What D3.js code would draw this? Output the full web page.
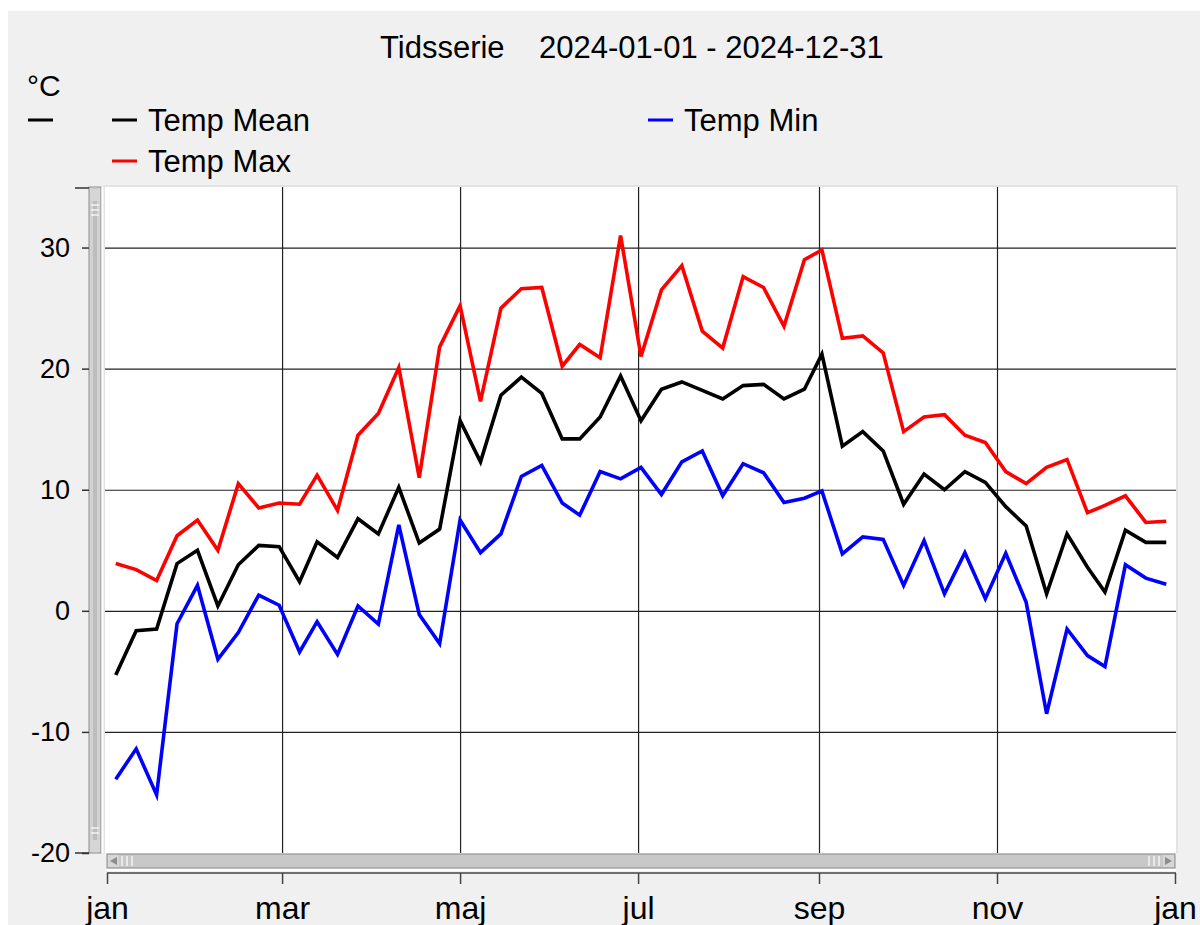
<!DOCTYPE html>
<html>
<head>
<meta charset="utf-8">
<script src="https://cdn.jsdelivr.net/npm/d3@7"></script>
<style>
  body { margin: 0; background: #fff; }
  svg text { font-family: "Liberation Sans", Arial, sans-serif; fill: #000; }
</style>
</head>
<body>
<div id="chart"></div>
<script>
// weekly points, 2024
var dates = ["2024-01-04","2024-01-11","2024-01-18","2024-01-25","2024-02-01","2024-02-08","2024-02-15",
  "2024-02-22","2024-02-29","2024-03-07","2024-03-13","2024-03-20","2024-03-27","2024-04-03","2024-04-10",
  "2024-04-17","2024-04-24","2024-05-01","2024-05-08","2024-05-15","2024-05-22","2024-05-29","2024-06-05",
  "2024-06-11","2024-06-18","2024-06-25","2024-07-02","2024-07-09","2024-07-16","2024-07-23","2024-07-30",
  "2024-08-06","2024-08-13","2024-08-20","2024-08-27","2024-09-02","2024-09-09","2024-09-16","2024-09-23",
  "2024-09-30","2024-10-07","2024-10-14","2024-10-21","2024-10-28","2024-11-04","2024-11-11","2024-11-18",
  "2024-11-25","2024-12-02","2024-12-08","2024-12-15","2024-12-22","2024-12-29"];

var tempMean = [-5.3,-1.65,-1.5,3.9,5.0,0.4,3.8,5.4,5.3,2.4,5.7,4.4,7.6,6.35,10.2,5.6,6.75,15.7,12.3,17.8,
  19.3,17.95,14.2,14.2,16.0,19.4,15.7,18.3,18.9,18.2,17.5,18.6,18.7,17.5,18.3,21.2,13.6,14.8,13.2,8.8,11.3,
  10.0,11.5,10.6,8.6,7.0,1.4,6.35,3.6,1.55,6.65,5.65,5.65];

var tempMax = [3.9,3.4,2.5,6.2,7.5,5.0,10.5,8.5,8.9,8.8,11.2,8.3,14.5,16.3,20.1,11.0,21.8,25.2,17.3,25.0,
  26.6,26.7,20.2,22.0,20.9,31.0,21.0,26.5,28.5,23.1,21.7,27.6,26.7,23.5,29.0,29.8,22.5,22.7,21.3,14.8,16.0,
  16.2,14.5,13.9,11.5,10.5,11.85,12.5,8.1,8.7,9.5,7.3,7.4];

var tempMin = [-13.9,-11.4,-15.2,-1.07,2.1,-4.0,-1.8,1.3,0.46,-3.4,-0.9,-3.6,0.4,-1.1,7.1,-0.3,-2.7,7.5,4.8,
  6.35,11.1,12.0,8.9,7.9,11.5,10.9,11.85,9.6,12.3,13.2,9.5,12.15,11.4,8.95,9.3,9.9,4.7,6.1,5.9,2.1,5.8,1.4,
  4.8,1.0,4.75,0.7,-8.5,-1.5,-3.7,-4.6,3.8,2.7,2.2];

var monthTicks = ["2024-01-01","2024-03-01","2024-05-01","2024-07-01","2024-09-01","2024-11-01","2025-01-01"];
var monthLabels = ["jan","mar","maj","jul","sep","nov","jan"];
var yTicks = [30, 20, 10, 0, -10, -20];

var parse = d3.timeParse("%Y-%m-%d");
var W = 1200, H = 925;
var pL = 105, pR = 1176, pT = 187, pB = 853;

var svg = d3.select("#chart").append("svg")
  .attr("width", W).attr("height", H)
  .attr("viewBox", [0, 0, W, H]);

// grey window background
svg.append("rect").attr("x", 8).attr("y", 11).attr("width", W - 8).attr("height", H - 11).attr("fill", "#f0f0f0");

var x = d3.scaleTime()
  .domain([parse("2024-01-01"), parse("2025-01-01")])
  .range([107, 1175]);
var y = d3.scaleLinear().domain([-20, 35]).range([pB, pT]);

// plot area
svg.append("rect").attr("x", pL - 2).attr("y", pT - 2).attr("width", pR - pL + 4).attr("height", pB - pT + 2)
  .attr("fill", "#e3e3e3");
svg.append("rect").attr("x", pL).attr("y", pT).attr("width", pR - pL).attr("height", pB - pT)
  .attr("fill", "#fff");

// grid
svg.append("g")
  .attr("transform", "translate(" + pL + ",0)")
  .call(d3.axisLeft(y).tickValues(yTicks.filter(d => d > -20)).tickSize(-(pR - pL)).tickFormat(""))
  .call(g => g.select(".domain").remove())
  .call(g => g.selectAll("line").attr("stroke", "#222").attr("stroke-width", 1.2));

svg.append("g")
  .attr("transform", "translate(0," + pB + ")")
  .call(d3.axisBottom(x).tickValues(monthTicks.slice(1, -1).map(parse)).tickSize(-(pB - pT)).tickFormat(""))
  .call(g => g.select(".domain").remove())
  .call(g => g.selectAll("line").attr("stroke", "#222").attr("stroke-width", 1.2));

// series
var series = [
  { name: "Temp Mean", values: tempMean, color: "#000000" },
  { name: "Temp Max", values: tempMax, color: "#ff0000" },
  { name: "Temp Min", values: tempMin, color: "#0000ff" }
];

svg.append("clipPath").attr("id", "clip")
  .append("rect").attr("x", pL).attr("y", pT).attr("width", pR - pL).attr("height", pB - pT);

var line = d3.line()
  .x((d, i) => x(parse(dates[i])))
  .y(d => y(d));

svg.append("g").attr("clip-path", "url(#clip)")
  .selectAll("path")
  .data(series.slice().reverse())
  .join("path")
  .attr("d", d => line(d.values))
  .attr("fill", "none")
  .attr("stroke", d => d.color)
  .attr("stroke-width", 3.6);

// horizontal scrollbar
var hs = svg.append("g");
hs.append("rect").attr("x", 107).attr("y", 854).attr("width", 1068).attr("height", 14)
  .attr("fill", "#c8c8c8").attr("stroke", "#8c8c8c");
hs.append("rect").attr("x", 108).attr("y", 855).attr("width", 11).attr("height", 12).attr("fill", "#d6d6d6");
hs.append("path").attr("d", "M110,861 L117,857 L117,865 Z").attr("fill", "#8c8c8c");
hs.append("rect").attr("x", 1163).attr("y", 855).attr("width", 11).attr("height", 12).attr("fill", "#d6d6d6");
hs.append("path").attr("d", "M1172,861 L1165,857 L1165,865 Z").attr("fill", "#8c8c8c");
[122, 127, 132, 1149, 1154, 1159].forEach(function(px) {
  hs.append("line").attr("x1", px).attr("x2", px).attr("y1", 856).attr("y2", 866).attr("stroke", "#f4f4f4").attr("stroke-width", 1.5);
});
hs.append("line").attr("x1", 107).attr("x2", 1176).attr("y1", 870).attr("y2", 870).attr("stroke", "#fff").attr("stroke-width", 2);

// vertical scrollbar
var vs = svg.append("g");
vs.append("rect").attr("x", 89).attr("y", 187).attr("width", 12).attr("height", 666)
  .attr("fill", "#d2d2d2").attr("stroke", "#8c8c8c");
vs.append("rect").attr("x", 93).attr("y", 187).attr("width", 4).attr("height", 666).attr("fill", "#bdbdbd");
vs.append("rect").attr("x", 90).attr("y", 189).attr("width", 10).attr("height", 12).attr("fill", "#d6d6d6");
vs.append("rect").attr("x", 90).attr("y", 840).attr("width", 10).attr("height", 12).attr("fill", "#d6d6d6");
[205, 210, 215, 828, 833].forEach(function(py) {
  vs.append("line").attr("x1", 91).attr("x2", 99).attr("y1", py).attr("y2", py).attr("stroke", "#f4f4f4").attr("stroke-width", 1.5);
});
vs.append("line").attr("x1", 102.5).attr("x2", 102.5).attr("y1", 187).attr("y2", 853).attr("stroke", "#fff").attr("stroke-width", 2);

// y axis
var yAxis = svg.append("g")
  .attr("transform", "translate(89,0)")
  .call(d3.axisLeft(y).tickValues(yTicks).tickSize(7).tickPadding(12).tickFormat(d => d));
yAxis.select(".domain").remove();
yAxis.selectAll("line").attr("stroke", "#333").attr("stroke-width", 1.5);
yAxis.selectAll("text").style("font-size", "27px");
svg.append("line").attr("x1", 75).attr("x2", 89).attr("y1", pT + 1).attr("y2", pT + 1).attr("stroke", "#333").attr("stroke-width", 1.5);
svg.append("line").attr("x1", 75).attr("x2", 89).attr("y1", pB).attr("y2", pB).attr("stroke", "#333").attr("stroke-width", 1.5);

// x axis
var xAxis = svg.append("g")
  .attr("transform", "translate(0,873)")
  .call(d3.axisBottom(x).tickValues(monthTicks.map(parse)).tickSize(11).tickPadding(12)
    .tickFormat((d, i) => monthLabels[i]));
xAxis.select(".domain").attr("stroke", "#444").attr("stroke-width", 1.5).attr("d", "M107,0H1176");
xAxis.selectAll("line").attr("stroke", "#444").attr("stroke-width", 1.5);
xAxis.selectAll("text").style("font-size", "32px");

// title
svg.append("text").attr("x", 380).attr("y", 58).style("font-size", "31px")
  .attr("xml:space", "preserve").text("Tidsserie    2024-01-01 - 2024-12-31");

// unit
svg.append("text").attr("x", 27).attr("y", 96).style("font-size", "30px").text("°C");
svg.append("line").attr("x1", 28).attr("x2", 53).attr("y1", 120).attr("y2", 120).attr("stroke", "#000").attr("stroke-width", 3);

// legend
var legendPos = [
  { x: 112, y: 120 },
  { x: 112, y: 161 },
  { x: 648, y: 120 }
];
var legend = svg.append("g").selectAll("g")
  .data(series)
  .join("g")
  .attr("transform", (d, i) => "translate(" + legendPos[i].x + "," + legendPos[i].y + ")");
legend.append("line").attr("x1", 0).attr("x2", 25).attr("stroke", d => d.color).attr("stroke-width", 3);
legend.append("text").attr("x", 36).attr("y", 11).style("font-size", "31px").text(d => d.name);
</script>
</body>
</html>
